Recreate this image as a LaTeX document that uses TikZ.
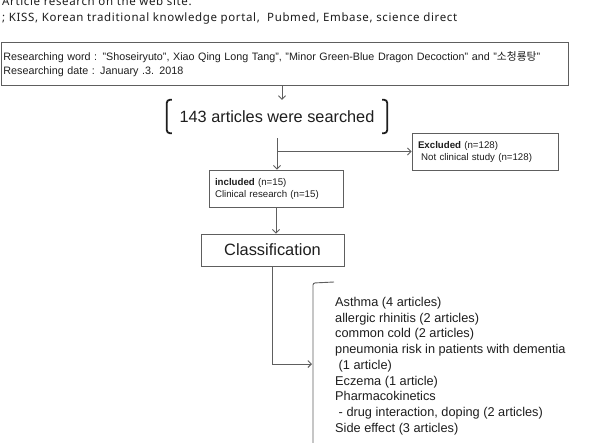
\documentclass[tikz,border=0pt]{standalone}
\usepackage{fontspec}
\setmainfont{Liberation Sans}
\newfontfamily\topfont[LetterSpace=5.5]{Noto Sans}
\newfontfamily\kr{Noto Sans CJK KR}
\usetikzlibrary{arrows.meta}
\definecolor{linec}{HTML}{5E5E5E}
\definecolor{txt}{HTML}{1E1E1E}
\begin{document}
\begin{tikzpicture}[x=1pt,y=-1pt,
  ln/.style={draw=linec, line width=0.9pt},
  arr/.style={ln, -{Straight Barb[length=3.5pt,width=7pt]}},
  box/.style={draw=linec, line width=0.9pt, text=txt, inner ysep=0pt},
  brk/.style={draw=txt, line width=1.8pt, rounded corners=3pt},
  every node/.style={text=txt}]
\useasboundingbox[fill=white] (0,0) rectangle (591,442);

% header lines
\node[anchor=base west, inner sep=0pt, font=\topfont\fontsize{11.5}{15}\selectfont] (t1) at (2,5.5) {Article research on the web site.};
\node[anchor=base west, inner sep=0pt, font=\topfont\fontsize{11.5}{15}\selectfont] (t2) at (2,21) {; KISS, Korean traditional knowledge portal,\ \ Pubmed, Embase, science direct};

% search box
\node[box, anchor=north west, minimum width=567pt, minimum height=43pt, text width=563pt, inner xsep=2pt, align=left, font=\fontsize{10.75}{14}\selectfont] (search) at (1,42)
 {Researching word : "Shoseiryuto",\ Xiao Qing Long Tang", "Minor Green-Blue\ Dragon Decoction" and "{\kr 소청룡탕}"\\Researching date : January\ .3. 2018};

% 143 articles
\node[minimum width=220pt, minimum height=33pt, inner sep=0pt, font=\fontsize{16.3}{18}\selectfont] (art) at (277,116.5) {143 articles were searched};
\draw[brk] ([xshift=5pt]art.north west) -- (art.north west) -- (art.south west) -- ([xshift=5pt]art.south west);
\draw[brk] ([xshift=-5pt]art.north east) -- (art.north east) -- (art.south east) -- ([xshift=-5pt]art.south east);

% excluded / included
\node[box, minimum width=146pt, minimum height=37pt, text width=134pt, inner xsep=6pt, align=left, font=\fontsize{9.7}{12}\selectfont] (excl) at (485,151.5)
 {\textbf{Excluded} (n=128)\\\ Not clinical study (n=128)};
\node[box, minimum width=134pt, minimum height=37pt, text width=122pt, inner xsep=6pt, align=left, font=\fontsize{9.7}{12}\selectfont] (incl) at (276,188.5)
 {\textbf{included} (n=15)\\Clinical research (n=15)};

% classification
\node[box, minimum width=143pt, minimum height=32pt, inner xsep=0pt, font=\fontsize{16.4}{18}\selectfont] (class) at (272.5,250) {Classification};

% list bracket and list
\coordinate (bt) at (313,283);
\coordinate (bb) at (313,450);
\coordinate (btick) at (334,282);
\coordinate (lin) at (312,364);
\draw[ln, rounded corners=2pt] (btick) -- (bt) -- (bb);
\node[anchor=west, align=left, inner sep=0pt, font=\fontsize{12.75}{15.75}\selectfont] (list) at (335,366)
 {Asthma (4 articles)\\
  allergic rhinitis\ (2 articles)\\
  common cold (2 articles)\\
  pneumonia risk in patients with\ dementia\\
  \ (1 article)\\
  Eczema (1 article)\\
  Pharmacokinetics\\
  \ - drug interaction, doping (2 articles)\\
  Side effect (3 articles)};

% connectors
\draw[arr] ([xshift=5pt]art.north |- search.south) -- ([xshift=5pt]art.north);
\draw[arr] ([yshift=-5pt]art.south) -- (art.south |- incl.north);
\draw[arr] (art.south |- excl.west) -- (excl.west);
\draw[arr] (incl.south) -- (incl.south |- class.north);
\draw[arr] (class.south) -- (class.south |- lin) -- (lin);
\end{tikzpicture}
\end{document}
